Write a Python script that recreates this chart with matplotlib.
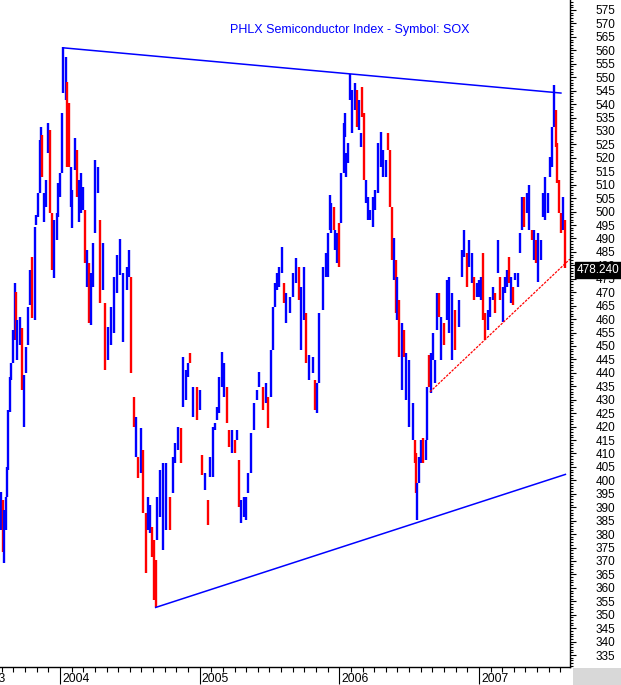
import matplotlib
matplotlib.use("Agg")
import matplotlib.pyplot as plt
import matplotlib.transforms as mtransforms
from matplotlib.patches import Rectangle
from matplotlib.ticker import MultipleLocator, FixedLocator, NullFormatter

plt.rcParams["font.family"] = ["Liberation Sans", "DejaVu Sans"]

# price bars: date (decimal year), high, low, colour (b / r)
dates = [
    2003.577, 2003.591, 2003.602, 2003.613, 2003.624, 2003.631, 2003.642, 2003.649, 2003.663, 2003.677,
    2003.685, 2003.695, 2003.713, 2003.728, 2003.742, 2003.753, 2003.770, 2003.788, 2003.803, 2003.821,
    2003.831, 2003.846, 2003.856, 2003.864, 2003.874, 2003.889, 2003.899, 2003.914, 2003.928, 2003.942,
    2003.960, 2003.975, 2003.989, 2004.000, 2004.014, 2004.025, 2004.043, 2004.053, 2004.064, 2004.078,
    2004.089, 2004.107, 2004.121, 2004.136, 2004.150, 2004.164, 2004.179, 2004.193, 2004.211, 2004.222,
    2004.236, 2004.254, 2004.272, 2004.290, 2004.308, 2004.322, 2004.343, 2004.365, 2004.386, 2004.408,
    2004.433, 2004.451, 2004.479, 2004.494, 2004.508, 2004.529, 2004.544, 2004.558, 2004.580, 2004.597,
    2004.615, 2004.630, 2004.648, 2004.662, 2004.673, 2004.685, 2004.698, 2004.716, 2004.737, 2004.762,
    2004.787, 2004.809, 2004.827, 2004.844, 2004.866, 2004.884, 2004.902, 2004.916, 2004.934, 2004.955,
    2004.980, 2005.006, 2005.020, 2005.038, 2005.059, 2005.077, 2005.095, 2005.113, 2005.127, 2005.142,
    2005.160, 2005.177, 2005.195, 2005.213, 2005.231, 2005.253, 2005.267, 2005.281, 2005.296, 2005.317,
    2005.331, 2005.349, 2005.371, 2005.392, 2005.410, 2005.424, 2005.453, 2005.474, 2005.492, 2005.510,
    2005.528, 2005.543, 2005.557, 2005.571, 2005.589, 2005.603, 2005.621, 2005.646, 2005.668, 2005.689,
    2005.711, 2005.729, 2005.747, 2005.765, 2005.786, 2005.811, 2005.829, 2005.840, 2005.858, 2005.883,
    2005.904, 2005.922, 2005.931, 2005.944, 2005.961, 2005.972, 2005.986, 2006.001, 2006.015, 2006.033,
    2006.040, 2006.051, 2006.065, 2006.080, 2006.094, 2006.112, 2006.130, 2006.141, 2006.155, 2006.165,
    2006.176, 2006.191, 2006.205, 2006.223, 2006.241, 2006.259, 2006.276, 2006.298, 2006.316, 2006.334,
    2006.352, 2006.362, 2006.377, 2006.391, 2006.405, 2006.416, 2006.427, 2006.448, 2006.463, 2006.481,
    2006.498, 2006.527, 2006.545, 2006.552, 2006.559, 2006.570, 2006.584, 2006.599, 2006.620, 2006.631,
    2006.645, 2006.656, 2006.674, 2006.688, 2006.702, 2006.713, 2006.728, 2006.749, 2006.771, 2006.789,
    2006.810, 2006.831, 2006.857, 2006.878, 2006.896, 2006.914, 2006.932, 2006.950, 2006.968, 2006.986,
    2007.000, 2007.014, 2007.028, 2007.046, 2007.064, 2007.082, 2007.100, 2007.114, 2007.136, 2007.154,
    2007.172, 2007.186, 2007.200, 2007.214, 2007.229, 2007.243, 2007.261, 2007.279, 2007.297, 2007.311,
    2007.326, 2007.343, 2007.361, 2007.379, 2007.394, 2007.408, 2007.426, 2007.444, 2007.458, 2007.476,
    2007.494, 2007.512, 2007.526, 2007.537, 2007.551, 2007.562, 2007.576, 2007.590, 2007.603, 2007.615,
]
highs = [
    395.7, 392.7, 389.0, 393.8, 405.0, 426.2, 438.4, 443.6, 455.9, 473.4,
    470.1, 459.6, 460.8, 456.7, 439.2, 449.6, 464.5, 478.3, 483.1, 494.3,
    498.7, 506.9, 526.6, 531.5, 528.5, 506.9, 511.7, 532.9, 530.3, 499.5,
    496.9, 499.5, 510.6, 514.3, 536.7, 561.2, 557.5, 548.2, 540.4, 516.6,
    508.0, 527.4, 522.9, 511.7, 514.3, 509.1, 500.6, 485.7, 480.9, 477.1,
    488.3, 519.2, 516.6, 496.9, 488.3, 466.0, 457.0, 464.5, 475.6, 483.8,
    489.8, 477.1, 479.4, 485.7, 475.6, 431.0, 423.6, 408.7, 419.5, 411.3,
    387.8, 393.8, 390.8, 382.6, 377.8, 370.3, 393.8, 403.8, 406.4, 406.4,
    393.8, 408.7, 413.9, 419.8, 419.5, 445.9, 441.0, 443.6, 447.4, 434.7,
    434.7, 433.6, 409.4, 402.7, 392.7, 408.7, 419.8, 421.3, 427.3, 438.4,
    447.7, 443.6, 434.7, 418.7, 418.7, 415.0, 418.7, 407.6, 392.7, 393.8,
    393.8, 402.7, 417.6, 428.8, 433.6, 440.3, 434.7, 436.2, 431.0, 448.5,
    464.5, 473.4, 477.1, 479.4, 486.8, 473.4, 469.7, 468.2, 477.1, 482.7,
    479.4, 471.9, 479.4, 462.2, 446.6, 445.9, 437.3, 436.2, 462.2, 479.4,
    484.6, 492.0, 506.2, 503.2, 501.7, 493.1, 492.0, 495.7, 514.3, 532.9,
    536.7, 521.8, 525.5, 551.2, 545.2, 547.8, 545.2, 541.5, 529.2, 546.3,
    536.7, 511.7, 505.4, 500.6, 505.4, 508.0, 525.5, 529.6, 522.9, 519.2,
    529.2, 522.9, 501.7, 490.2, 482.0, 475.6, 467.1, 458.5, 455.9, 447.4,
    444.8, 428.8, 415.0, 410.2, 399.0, 408.7, 415.0, 415.7, 415.0, 434.7,
    446.6, 447.4, 454.8, 444.8, 469.7, 469.7, 460.8, 458.5, 474.5, 475.6,
    469.7, 463.4, 467.1, 485.7, 493.1, 484.6, 489.4, 484.6, 475.6, 473.4,
    474.5, 475.6, 484.6, 462.2, 463.4, 468.2, 471.9, 469.7, 489.4, 475.6,
    471.9, 475.6, 478.3, 483.1, 475.6, 471.9, 477.1, 477.1, 492.0, 505.4,
    505.4, 506.9, 509.9, 493.1, 493.1, 489.4, 492.0, 489.4, 506.9, 512.9,
    506.9, 520.3, 531.5, 547.1, 537.8, 525.5, 511.7, 499.5, 505.4, 496.9,
]
lows = [
    381.5, 373.3, 369.2, 381.5, 393.8, 403.8, 425.4, 437.3, 443.6, 452.2,
    452.2, 444.8, 450.3, 433.6, 419.8, 439.9, 450.3, 465.2, 460.4, 459.6,
    495.0, 498.0, 506.9, 513.6, 512.9, 496.1, 501.7, 521.8, 499.5, 478.3,
    475.3, 489.4, 498.0, 505.4, 514.3, 544.1, 541.5, 516.6, 516.6, 501.7,
    493.9, 515.5, 505.4, 496.1, 499.5, 500.6, 480.9, 471.9, 458.5, 457.8,
    471.9, 492.0, 506.9, 466.0, 470.8, 441.0, 444.8, 450.3, 454.8, 469.7,
    476.4, 451.5, 470.8, 475.6, 439.9, 419.8, 408.7, 400.9, 402.7, 387.8,
    365.5, 381.5, 380.4, 371.5, 355.5, 352.9, 377.8, 386.3, 374.1, 381.5,
    381.5, 395.3, 406.4, 411.3, 406.4, 427.3, 429.9, 438.4, 443.6, 423.6,
    422.4, 426.2, 402.0, 396.4, 383.4, 401.2, 401.2, 418.7, 422.4, 425.0,
    434.7, 431.0, 421.3, 412.4, 410.2, 410.2, 415.0, 390.1, 384.1, 386.3,
    385.2, 395.3, 402.7, 418.7, 429.9, 434.7, 426.2, 428.8, 419.5, 431.0,
    448.5, 464.5, 470.8, 471.9, 477.1, 466.0, 458.5, 462.2, 468.2, 473.4,
    467.1, 448.5, 459.6, 443.6, 437.3, 439.9, 426.2, 425.0, 436.2, 463.4,
    475.6, 475.6, 493.1, 492.0, 493.1, 485.7, 480.9, 479.4, 495.7, 514.3,
    527.7, 512.9, 518.1, 541.5, 529.2, 537.8, 531.5, 530.3, 524.0, 535.2,
    511.7, 503.2, 496.9, 496.9, 494.3, 500.6, 506.9, 516.6, 512.9, 512.9,
    522.9, 501.7, 482.0, 474.5, 462.2, 459.6, 445.9, 433.6, 445.9, 429.9,
    419.8, 415.0, 406.4, 395.3, 385.2, 399.0, 406.4, 406.4, 407.6, 415.0,
    434.7, 432.5, 444.8, 436.2, 455.9, 460.8, 444.8, 450.3, 459.6, 454.8,
    444.8, 448.5, 457.0, 475.6, 483.1, 471.9, 479.4, 473.4, 467.1, 468.2,
    468.2, 467.1, 459.6, 452.2, 455.9, 460.8, 467.1, 462.2, 477.1, 467.1,
    458.9, 469.7, 471.9, 473.4, 466.0, 465.2, 474.5, 471.9, 484.6, 493.1,
    494.3, 499.5, 493.1, 489.4, 482.0, 480.9, 473.8, 482.0, 498.0, 496.9,
    499.5, 512.9, 516.6, 531.5, 524.0, 510.6, 499.5, 492.0, 493.1, 479.0,
]
bar_col = ("brbbbbbbbb" "rbbrbbbbrb" "bbbbrbbbrr" "bbbbbbbrrb" "bbrbbbrbrb"
           "bbbrbrbbbb" "bbbbrrbrbr" "rbbrrrbbbb" "rbbbrbbbrb" "rbrbrbbbbb"
           "bbrrbrbrbb" "bbbbbbrbrb" "bbbbbrbbbb" "rbbrbbrbbb" "bbbbrbbrbb"
           "bbbbbbrbbr" "rbbbbbbbbb" "rrrbrbrbrb" "bbrrbbbrbb" "rbbbbrbrbb"
           "brbbbrbbrb" "bbrrbbbrbr" "bbbrbrbbbb" "rbbrbrbbbb" "bbbbrrrrbr")

last_close = 478.24

# trend lines (start / end)
top_line_x = [2004.029, 2007.587]
top_line_y = [560.9, 544.1]
low_line_x = [2004.685, 2007.619]
low_line_y = [352.7, 402.2]
red_line_x = [2006.649, 2007.651]
red_line_y = [432.9, 482.3]

years = [2004, 2005, 2006, 2007]

W, H = 621, 685
fig = plt.figure(figsize=(W / 100, H / 100), dpi=100)
ax = fig.add_axes([0, 18 / H, 570 / W, 667 / H])

colors = ["#0000ff" if c == "b" else "#ff0000" for c in bar_col]
ax.vlines(dates, lows, highs, colors=colors, linewidth=1.7)

ax.plot(top_line_x, top_line_y, color="#0000ff", linewidth=1.1)
ax.plot(low_line_x, low_line_y, color="#0000ff", linewidth=1.1)
ax.plot(red_line_x, red_line_y, color="#ff0000", linewidth=0.9,
        linestyle=(0, (2, 1)), clip_on=False)

ax.set_xlim(2003.5704, 2007.652)
ax.set_ylim(330.54, 578.72)

for s in ["top", "left"]:
    ax.spines[s].set_visible(False)
ax.spines["right"].set_linewidth(1)
ax.spines["bottom"].set_linewidth(1)

# y axis on the right
ax.yaxis.tick_right()
ax.yaxis.set_major_locator(MultipleLocator(5))
ax.yaxis.set_minor_locator(MultipleLocator(1))
ax.tick_params(axis="y", which="major", length=4.3, width=0.8, pad=14,
               labelsize=8.5, direction="out")
ax.tick_params(axis="y", which="minor", length=2.2, width=0.8, direction="out")

# x axis: monthly minor ticks, long year ticks, labels to the right of ticks
months = [y + m / 12 for y in range(2003, 2008) for m in range(12)]
ax.xaxis.set_major_locator(FixedLocator(years))
ax.xaxis.set_minor_locator(FixedLocator(months))
ax.xaxis.set_major_formatter(NullFormatter())
ax.tick_params(axis="x", which="major", length=12.5, width=0.8, direction="out")
ax.tick_params(axis="x", which="minor", length=3.6, width=0.8, direction="out")

for y in years:
    ax.annotate(str(y), xy=(y, 0), xycoords=("data", "axes fraction"),
                xytext=(1.5, -11), textcoords="offset points",
                ha="left", va="baseline", fontsize=8.7)
ax.annotate("2003", xy=(2003.5704, 0), xycoords=("data", "axes fraction"),
            xytext=(4, -11), textcoords="offset points",
            ha="right", va="baseline", fontsize=8.7, annotation_clip=False)

# last price box
trans = mtransforms.blended_transform_factory(ax.transAxes, ax.transData)
ax.text(1.012, last_close, f"{last_close:.3f}", transform=trans, color="white",
        fontsize=8.5, ha="left", va="center", zorder=10, clip_on=False,
        bbox=dict(facecolor="black", edgecolor="black", pad=1.2))

fig.text(350 / W, 1 - 30 / H, "PHLX Semiconductor Index - Symbol: SOX",
         ha="center", va="center", color="#0000ff", fontsize=9)

fig.patches.append(Rectangle((573 / W, 0), 48 / W, 17 / H, transform=fig.transFigure,
                             facecolor="#d8d8d8", edgecolor="none"))

fig.savefig("out.png", dpi=100)
